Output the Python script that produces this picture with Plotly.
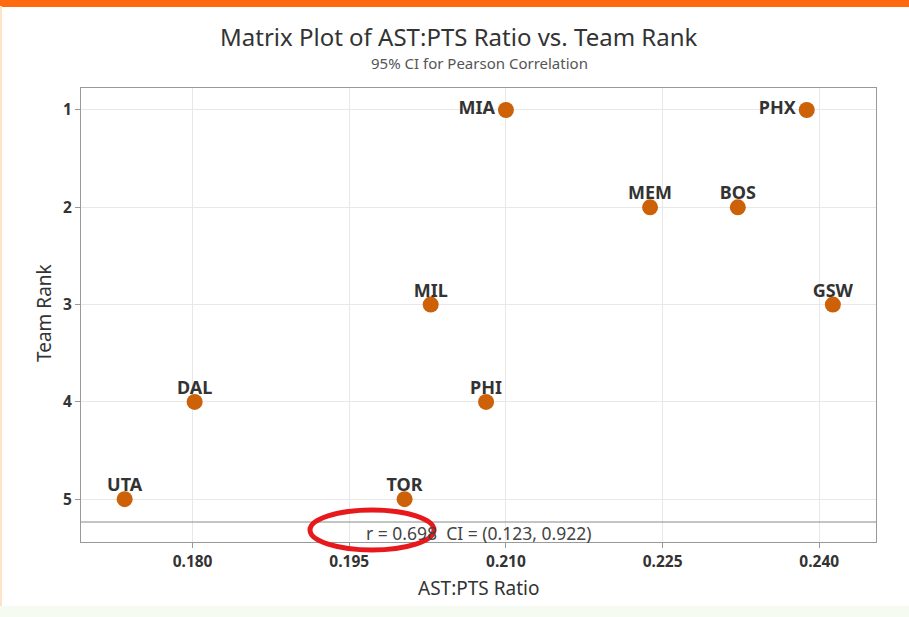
import plotly.graph_objects as go

teams = ["MIA", "PHX", "MEM", "BOS", "GSW", "MIL", "PHI", "DAL", "UTA", "TOR"]
ast_pts_ratio = [0.2100, 0.2388, 0.2238, 0.2322, 0.2413, 0.2028, 0.2081, 0.1802, 0.1735, 0.2003]
team_rank = [1, 1, 2, 2, 3, 3, 4, 4, 5, 5]
label_pos = ["middle left", "middle left", "top center", "top center", "top center",
             "top center", "top center", "top center", "top center", "top center"]
label_gap = [16, 16, 4, 4, 4, 4, 4, 4, 4, 4]
x_ticks = [0.180, 0.195, 0.210, 0.225, 0.240]
y_ticks = [1, 2, 3, 4, 5]
r_text = "r = 0.698  CI = (0.123, 0.922)"

FONT = "Noto Sans"
W, H = 909, 617
L, R, T, B = 81, 33, 88, 75
ph = H - T - B

def py(pix):
    return (H - B - pix) / ph

def px(pix):
    return (pix - L) / (W - L - R)

fig = go.Figure()
fig.add_trace(go.Scatter(
    x=ast_pts_ratio, y=team_rank, mode="markers",
    marker=dict(size=16, color="#CC6108", line=dict(width=0)),
    cliponaxis=False, showlegend=False, hoverinfo="skip",
))
fig.add_trace(go.Scatter(
    x=ast_pts_ratio, y=team_rank, mode="markers+text",
    text=teams, textposition=label_pos,
    textfont=dict(family=FONT, size=18, color="#333333", weight="bold"),
    marker=dict(size=label_gap, color="rgba(0,0,0,0)", line=dict(width=0)),
    cliponaxis=False, showlegend=False, hoverinfo="skip",
))

tickfont = dict(family=FONT, size=15.5, color="#333333", weight="bold")
fig.update_layout(
    width=W, height=H,
    margin=dict(l=L, r=R, t=T, b=B, autoexpand=False),
    paper_bgcolor="white", plot_bgcolor="white",
    font=dict(family=FONT, color="#333333"),
    xaxis=dict(
        range=[0.16932, 0.24543], tickvals=x_ticks, tickformat=".3f",
        showgrid=True, gridcolor="#e8e8e8", zeroline=False,
        showline=True, linecolor="#999999", mirror=True,
        ticks="outside", ticklen=5, tickcolor="#999999",
        tickfont=tickfont, automargin=False,
    ),
    yaxis=dict(
        range=[5.44, 0.774], tickvals=y_ticks,
        showgrid=True, gridcolor="#e8e8e8", zeroline=False,
        showline=True, linecolor="#999999", mirror=True,
        ticks="outside", ticklen=5, tickcolor="#999999",
        tickfont=tickfont, automargin=False,
    ),
)

def label(text, x, y, size, color="#333333", angle=0):
    fig.add_annotation(text=text, xref="paper", yref="paper", x=x, y=y,
                       xanchor="center", yanchor="middle", textangle=angle,
                       showarrow=False, font=dict(family=FONT, size=size, color=color))

label("Matrix Plot of AST:PTS Ratio vs. Team Rank", px(459), py(37), 24)
label("95% CI for Pearson Correlation", px(479), py(63), 15, "#555555")
label("AST:PTS Ratio", 0.5, py(588), 19)
label("Team Rank", px(44), py(313), 19, angle=-90)

# band separating the correlation text
fig.add_shape(type="line", xref="paper", yref="paper", x0=0, x1=1, y0=py(522), y1=py(522),
              line=dict(color="#888888", width=1))
label(r_text, 0.5, py(533), 17.5, "#444444")
# red ellipse highlight
fig.add_shape(type="circle", xref="paper", yref="paper",
              x0=px(310), x1=px(434), y0=py(550), y1=py(510),
              line=dict(color="#E8191C", width=5))
# orange top bar
fig.add_shape(type="rect", xref="paper", yref="paper", x0=px(-2), x1=px(W + 2), y0=py(7), y1=py(-2),
              fillcolor="#FF6A10", line=dict(width=0), layer="above")
# faint left edge and bottom tint
fig.add_shape(type="rect", xref="paper", yref="paper", x0=px(-2), x1=px(2), y0=py(H), y1=py(6),
              fillcolor="#FFE2C8", line=dict(width=0))
fig.add_shape(type="rect", xref="paper", yref="paper", x0=px(-2), x1=px(W + 2), y0=py(H + 2), y1=py(606),
              fillcolor="#F6FBF2", line=dict(width=0))

fig.write_html("out.html", config={"displayModeBar": False},
               post_script="document.body.style.margin='0';document.body.style.overflow='hidden';")
